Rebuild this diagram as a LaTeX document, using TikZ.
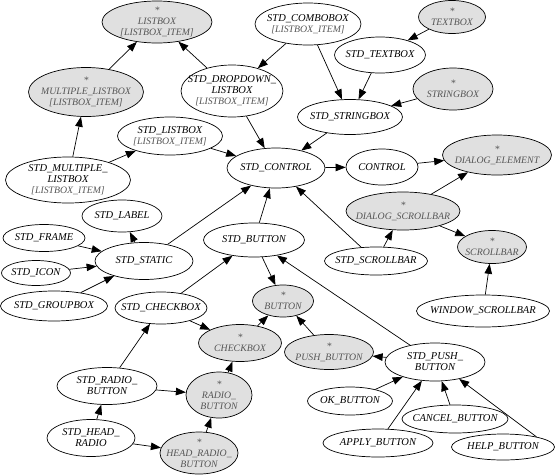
\documentclass[tikz,border=0pt]{standalone}
\usepackage{fontspec}
\setmainfont{Liberation Serif}
\usepackage{tikz}
\usetikzlibrary{shapes,arrows.meta}

\definecolor{abfill}{RGB}{224,224,224}
\definecolor{abtext}{RGB}{85,85,85}

\tikzset{
  cls/.style={ellipse, draw, line width=0.7pt, align=center, inner xsep=-8pt, inner ysep=-8pt,
    font=\fontsize{10.5}{11}\selectfont\itshape},
  abst/.style={cls, fill=abfill, text=abtext, font=\fontsize{9.8}{11}\selectfont\itshape},
  sz/.style 2 args={minimum width=#1pt, minimum height=#2pt},
  inh/.style={-{Triangle[length=10pt,width=7.5pt]}, line width=0.7pt},
}
\newcommand{\itm}{{\color{abtext}\fontsize{9.8}{11}\selectfont[LISTBOX\_ITEM]}}

\begin{document}
\begin{tikzpicture}[x=1pt,y=1pt,yscale=-1]
    \useasboundingbox (0,0) rectangle (556,474);

    % listbox and stringbox part
    \node[abst,sz={110}{42}] (lbox) at (157,22) {*\\LISTBOX\\\itm};
    \node[cls,sz={106}{42}] (scombo) at (308,24) {STD\_COMBOBOX\\\itm};
    \node[abst,sz={67}{33}] (tbox) at (452,17) {*\\TEXTBOX};
    \node[cls,sz={91}{36}] (stbox) at (380,55) {STD\_TEXTBOX};
    \node[abst,sz={115}{49}] (mlbox) at (86,92) {*\\MULTIPLE\_LISTBOX\\\itm};
    \node[cls,sz={100}{52}] (sdrop) at (232,91) {STD\_DROPDOWN\_\\LISTBOX\\\itm};
    \node[abst,sz={80}{42}] (sbox) at (453,89) {*\\STRINGBOX};
    \node[cls,sz={105}{35}] (ssbox) at (350,117) {STD\_STRINGBOX};
    \node[cls,sz={105}{38}] (slbox) at (170,136) {STD\_LISTBOX\\\itm};
    \node[cls,sz={125}{46}] (smlbox) at (68,180) {STD\_MULTIPLE\_\\LISTBOX\\\itm};

    % control and scrollbars
    \node[cls,sz={98}{40}] (sctrl) at (276,168) {STD\_CONTROL};
    \node[cls,sz={72}{36}] (ctrl) at (382,167) {CONTROL};
    \node[abst,sz={109}{40}] (delem) at (497,155) {*\\DIALOG\_ELEMENT};
    \node[abst,sz={114}{38}] (dsbar) at (403,211) {*\\DIALOG\_SCROLLBAR};
    \node[cls,sz={103}{28}] (ssbar) at (376,261) {STD\_SCROLLBAR};
    \node[abst,sz={69}{33}] (scbar) at (492,247) {*\\SCROLLBAR};
    \node[cls,sz={133}{32}] (wsbar) at (483,311) {WINDOW\_SCROLLBAR};

    % static part
    \node[cls,sz={80}{32}] (slabel) at (122,216) {STD\_LABEL};
    \node[cls,sz={82}{27}] (sframe) at (44,238) {STD\_FRAME};
    \node[cls,sz={69}{25}] (sicon) at (36,273) {STD\_ICON};
    \node[cls,sz={98}{37}] (sstatic) at (144,261) {STD\_STATIC};
    \node[cls,sz={107}{30}] (sgroup) at (54,306) {STD\_GROUPBOX};

    % buttons
    \node[cls,sz={101}{34}] (sbutton) at (254,240) {STD\_BUTTON};
    \node[abst,sz={61}{32}] (button) at (283,301) {*\\BUTTON};
    \node[cls,sz={92}{32}] (scheck) at (161,308) {STD\_CHECKBOX};
    \node[abst,sz={83}{37}] (cbox) at (240,343) {*\\CHECKBOX};
    \node[abst,sz={89}{35}] (pbutton) at (329,352) {*\\PUSH\_BUTTON};
    \node[cls,sz={100}{38}] (spush) at (435,362) {STD\_PUSH\_\\BUTTON};
    \node[cls,sz={100}{37}] (sradio) at (107,386) {STD\_RADIO\_\\BUTTON};
    \node[abst,sz={66}{46}] (rbutton) at (219,395) {*\\RADIO\_\\BUTTON};
    \node[cls,sz={88}{37}] (shead) at (91,438) {STD\_HEAD\_\\RADIO};
    \node[abst,sz={78}{42}] (hrbutton) at (199,453) {*\\HEAD\_RADIO\_\\BUTTON};
    \node[cls,sz={85}{28}] (okb) at (350,401) {OK\_BUTTON};
    \node[cls,sz={106}{28}] (cancelb) at (455,419) {CANCEL\_BUTTON};
    \node[cls,sz={110}{28}] (applyb) at (378,443) {APPLY\_BUTTON};
    \node[cls,sz={103}{26}] (helpb) at (503,447) {HELP\_BUTTON};

    % inheritance arrows
    \draw[inh] (mlbox) -- (lbox);
    \draw[inh] (sdrop) -- (lbox);
    \draw[inh] (scombo) -- (sdrop);
    \draw[inh] (scombo) -- (ssbox);
    \draw[inh] (tbox) -- (stbox);
    \draw[inh] (stbox) -- (ssbox);
    \draw[inh] (sbox) -- (ssbox);
    \draw[inh] (ssbox) -- (sctrl);
    \draw[inh] (sdrop) -- (sctrl);
    \draw[inh] (slbox) -- (sctrl);
    \draw[inh] (smlbox) -- (mlbox);
    \draw[inh] (smlbox) -- (slbox);
    \draw[inh] (sctrl) -- (ctrl);
    \draw[inh] (ctrl) -- (delem);
    \draw[inh] (dsbar) -- (delem);
    \draw[inh] (dsbar) -- (scbar);
    \draw[inh] (ssbar) -- (dsbar);
    \draw[inh] (ssbar) -- (sctrl);
    \draw[inh] (wsbar) -- (scbar);
    \draw[inh] (sstatic) -- (slabel);
    \draw[inh] (sframe) -- (sstatic);
    \draw[inh] (sicon) -- (sstatic);
    \draw[inh] (sgroup) -- (sstatic);
    \draw[inh] (sstatic) -- (sctrl);
    \draw[inh] (sbutton) -- (sctrl);
    \draw[inh] (sbutton) -- (button);
    \draw[inh] (scheck) -- (sbutton);
    \draw[inh] (scheck) -- (cbox);
    \draw[inh] (cbox) -- (button);
    \draw[inh] (pbutton) -- (button);
    \draw[inh] (spush) -- (pbutton);
    \draw[inh] (spush) -- (sbutton);
    \draw[inh] (sradio) -- (scheck);
    \draw[inh] (sradio) -- (rbutton);
    \draw[inh] (rbutton) -- (cbox);
    \draw[inh] (shead) -- (sradio);
    \draw[inh] (shead) -- (hrbutton);
    \draw[inh] (hrbutton) -- (rbutton);
    \draw[inh] (okb) -- (spush);
    \draw[inh] (applyb) -- (spush);
    \draw[inh] (cancelb) -- (spush);
    \draw[inh] (helpb.17) -- (spush.-35);
\end{tikzpicture}
\end{document}
